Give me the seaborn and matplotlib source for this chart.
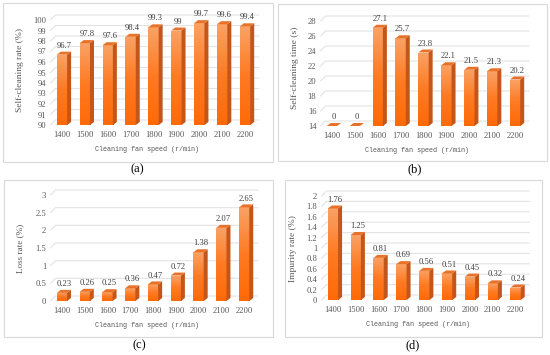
import numpy as np
import matplotlib
matplotlib.use('Agg')
import matplotlib.pyplot as plt
import matplotlib.transforms as mtransforms
from matplotlib.patches import Polygon, Rectangle
from matplotlib.colors import LinearSegmentedColormap
import seaborn as sns

# data
speeds = ['1400', '1500', '1600', '1700', '1800', '1900', '2000', '2100', '2200']
clean_rate = [96.7, 97.8, 97.6, 98.4, 99.3, 99.0, 99.7, 99.6, 99.4]
clean_time = [0, 0, 27.1, 25.7, 23.8, 22.1, 21.5, 21.3, 20.2]
loss_rate = [0.23, 0.26, 0.25, 0.36, 0.47, 0.72, 1.38, 2.07, 2.65]
impurity_rate = [1.76, 1.25, 0.81, 0.69, 0.56, 0.51, 0.45, 0.32, 0.24]

sns.set_style('white')
plt.rcParams['font.family'] = ['Liberation Serif', 'DejaVu Serif']

W, H = 550, 355
fig = plt.figure(figsize=(W / 100, H / 100), dpi=100)

front_cmap = LinearSegmentedColormap.from_list('front', ['#F9A266', '#FF7A22', '#FF6A08'])
side_col = '#C5561A'
top_col = '#E9722A'
grid_col = '#E3E3E3'
tick_col = '#595959'
DX, DY = 4, 3      # bar depth in px
GX, GY = 5, 5      # back wall offset for gridlines


def px_rect(l, t, r, b):
    return [l / W, 1 - b / H, (r - l) / W, (b - t) / H]


def panel(rect, box, values, ylim, step, ylabel, ylab_xy, ylab_size, tag, tag_xy):
    # light frame around each sub-figure
    l, t, r, b = box
    fig.patches.append(Rectangle((l / W, 1 - b / H), (r - l) / W, (b - t) / H,
                                 transform=fig.transFigure, fill=False,
                                 ec='#D9D9D9', lw=0.8))
    fig.text(tag_xy[0] / W, 1 - tag_xy[1] / H, tag, ha='center', va='center',
             fontsize=9, color='black')

    ax = fig.add_axes(px_rect(*rect))
    sns.barplot(x=speeds, y=values, ax=ax, color='#FF7A22', width=0.45,
                saturation=1, zorder=3)
    ymin, ymax = ylim
    ax.set_xlim(-0.5, len(speeds) - 0.5)
    ax.set_ylim(ymin, ymax)
    ticks = np.round(np.arange(ymin, ymax + step / 2, step), 2)
    ax.set_yticks(ticks)
    ax.set_yticklabels([f'{v:g}' for v in ticks])
    ax.tick_params(axis='both', length=0, labelsize=6.2, colors=tick_col)
    ax.tick_params(axis='x', pad=4)
    ax.tick_params(axis='y', pad=3)
    sns.despine(ax=ax, left=True, bottom=True)

    ax.set_xlabel('Cleaning fan speed (r/min)', family='Liberation Mono',
                  fontsize=4.9, color=tick_col)
    ax.xaxis.set_label_coords(0.47, -0.2)
    ax.set_ylabel(ylabel, fontsize=ylab_size, color=tick_col)
    ax.yaxis.set_label_coords(*ylab_xy)

    ident = mtransforms.IdentityTransform()
    # gridlines on the back wall, with a slanted floor segment
    for v in ticks:
        x0, y0 = ax.transData.transform((-0.5, v))
        x1, _ = ax.transData.transform((len(speeds) - 0.5, v))
        ax.add_line(plt.Line2D([x0, x0 + GX, x1 + GX / 2], [y0, y0 + GY, y0 + GY],
                               transform=ident, color=grid_col, lw=0.8,
                               zorder=1, clip_on=False))

    grad = np.linspace(0, 1, 64).reshape(-1, 1)
    for bar, v in zip(ax.patches, values):
        bx, bw = bar.get_x(), bar.get_width()
        lo = max(ymin, 0)
        hi = max(v, ymin)
        if hi > lo:
            img = ax.imshow(grad, cmap=front_cmap, aspect='auto', zorder=4,
                            extent=[bx, bx + bw, lo, hi], interpolation='bilinear')
            img.set_clip_path(bar)
        (fx0, fy0), (fx1, fy1) = ax.transData.transform([(bx, lo), (bx + bw, hi)])
        side = [(fx1, fy0), (fx1, fy1), (fx1 + DX, fy1 + DY), (fx1 + DX, fy0 + DY)]
        top = [(fx0, fy1), (fx1, fy1), (fx1 + DX, fy1 + DY), (fx0 + DX, fy1 + DY)]
        ax.add_patch(Polygon(side, closed=True, transform=ident, fc=side_col,
                             ec='none', zorder=5, clip_on=False))
        ax.add_patch(Polygon(top, closed=True, transform=ident, fc=top_col,
                             ec='none', zorder=5, clip_on=False))
        ax.annotate(f'{v:g}', (bx + bw / 2, hi), xytext=(1.5, 3.5),
                    textcoords='offset points', ha='center', va='bottom',
                    fontsize=6.2, color='#404040', zorder=6)
    ax.set_xlim(-0.5, len(speeds) - 0.5)
    ax.set_ylim(ymin, ymax)
    ax.patch.set_alpha(0)
    return ax


panel((50.5, 20, 256.5, 125), (3, 3, 273, 162), clean_rate, (90, 100), 1,
      'Self-cleaning rate (%)', (-0.13, 0.52), 6.8, '(a)', (137, 169))
panel((320.5, 21, 526.5, 126), (278, 4, 547, 161), clean_time, (14, 28), 2,
      'Self-cleaning time (s)', (-0.105, 0.55), 6.8, '(b)', (415, 169))
panel((50.5, 195, 255.5, 301), (4, 180, 273, 337), loss_rate, (0, 3), 0.5,
      'Loss rate (%)', (-0.13, 0.5), 6.6, '(c)', (139, 345))
panel((321.5, 196, 527, 300), (285, 180, 542, 337), impurity_rate, (0, 2), 0.2,
      'Impurity rate (%)', (-0.12, 0.49), 6.8, '(d)', (413, 345))

fig.savefig('out.png', dpi=100, facecolor='white')
